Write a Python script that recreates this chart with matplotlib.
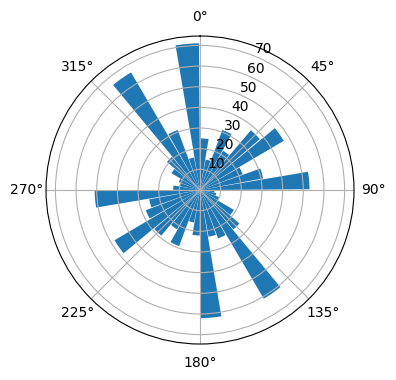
import numpy as np
import matplotlib
matplotlib.use("Agg")
import matplotlib.pyplot as plt

# direction bins (start angle, degrees) and counts
bin_start_deg = np.arange(0, 360, 10)
counts = [25, 15, 31, 22, 38, 47, 22, 31, 53,
          7, 8, 10, 19, 25, 61, 25, 23, 62,
          22, 16, 29, 22, 29, 48, 28, 25, 51,
          13, 10, 11, 16, 21, 66, 31, 16, 71]

fig = plt.figure(figsize=(3.96, 3.80), dpi=100)
ax = fig.add_axes([0.1162, 0.0947, 0.7778, 0.8105], projection='polar')
ax.set_theta_zero_location('N')
ax.set_theta_direction(-1)

theta = np.deg2rad(bin_start_deg + 0.4)
ax.bar(theta, counts, width=np.deg2rad(9.2), align='edge', color='#1f77b4')

fig.savefig('out.png', dpi=100)
